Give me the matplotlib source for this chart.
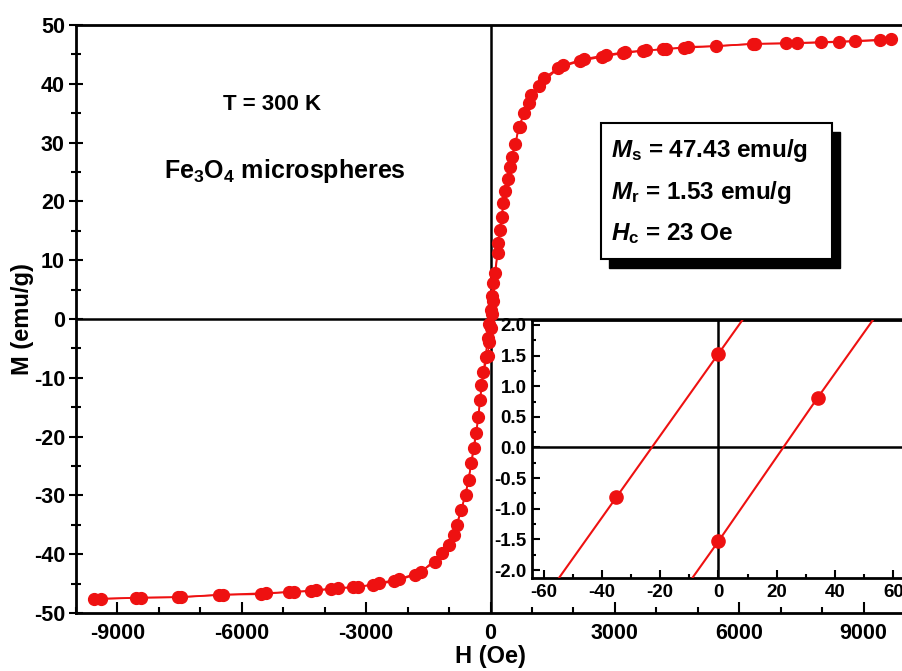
import matplotlib
matplotlib.use('Agg')
import matplotlib.pyplot as plt
import matplotlib.transforms as mtransforms
from matplotlib.patches import Rectangle
from matplotlib.ticker import MultipleLocator, FormatStrFormatter

# descending branch (field swept from +H to -H)
H_down = [9660, 8790, 7970, 7130, 6380, 5430, 4760, 4230, 3740, 3240, 2780, 2250,
          1760, 1280, 970, 800, 700, 510, 410, 310, 220, 170, 70, 35, 0, -35, -70,
          -120, -220, -290, -410, -530, -700, -890, -1160, -1670, -2200, -2680,
          -3190, -3670, -4200, -4730, -5410, -6450, -7460, -8430, -9400]
M_down = [47.6, 47.3, 47.1, 46.9, 46.8, 46.4, 46.3, 45.9, 45.7, 45.4, 44.9, 44.2,
          43.2, 41.0, 38.1, 35.0, 32.7, 27.6, 23.8, 19.7, 15.1, 11.2, 6.21, 3.87, 1.53, -0.81, -3.15,
          -6.5, -11.2, -16.7, -21.9, -27.4, -32.5, -36.7, -39.8, -43.0, -44.2, -44.9,
          -45.6, -45.7, -46.1, -46.4, -46.6, -46.9, -47.3, -47.4, -47.6]

# ascending branch (field swept from -H to +H)
H_up = [-9570, -8550, -7540, -6550, -5530, -4860, -4320, -3840, -3310, -2830, -2320,
        -1810, -1330, -990, -820, -600, -460, -340, -250, -170, -70, -35, 0, 34, 69,
        120, 190, 270, 360, 460, 600, 680, 920, 1160, 1640, 2170, 2700, 3190, 3670,
        4150, 4660, 6330, 7390, 8400, 9400]
M_up = [-47.6, -47.4, -47.3, -46.9, -46.8, -46.4, -46.3, -45.9, -45.6, -45.2, -44.6,
        -43.5, -41.3, -38.4, -35.0, -29.9, -24.5, -19.4, -13.8, -9.0, -6.21, -3.87, -1.53, 0.81, 3.15,
        7.8, 12.9, 17.3, 21.8, 25.9, 29.8, 32.7, 36.7, 39.6, 42.7, 43.9, 44.6, 45.2, 45.6,
        45.9, 46.1, 46.8, 46.9, 47.1, 47.4]

box_lines = [r'$M_\mathrm{s}$ = 47.43 emu/g',
             r'$M_\mathrm{r}$ = 1.53 emu/g',
             r'$H_\mathrm{c}$ = 23 Oe']

plt.rcParams['font.family'] = ['Liberation Sans', 'DejaVu Sans']
plt.rcParams['font.weight'] = 'bold'
plt.rcParams['axes.labelweight'] = 'bold'
plt.rcParams['axes.unicode_minus'] = False
plt.rcParams['mathtext.fontset'] = 'custom'
plt.rcParams['mathtext.it'] = 'Liberation Sans:italic:bold'
plt.rcParams['mathtext.rm'] = 'Liberation Sans:bold'
plt.rcParams['mathtext.bf'] = 'Liberation Sans:bold'

red = '#ee1111'

fig = plt.figure(figsize=(9.03, 6.71), dpi=100)
ax = fig.add_axes([0.0842, 0.0864, 0.918, 0.8763])

for h, m in [(H_down, M_down), (H_up, M_up)]:
    ax.plot(h, m, '-o', color=red, lw=1.2, ms=8.5, mec=red, zorder=3)
ax.axhline(0, color='black', lw=1.8, zorder=2)
ax.axvline(0, color='black', lw=1.8, zorder=2)

ax.set_xlim(-10000, 10000)
ax.set_ylim(-50, 50)
ax.xaxis.set_major_locator(MultipleLocator(3000))
ax.xaxis.set_minor_locator(MultipleLocator(1000))
ax.yaxis.set_major_locator(MultipleLocator(10))
ax.yaxis.set_minor_locator(MultipleLocator(5))
ax.tick_params(axis='x', which='both', direction='in', labelsize=15.5, pad=7, width=1.5)
ax.tick_params(axis='x', which='major', length=8)
ax.tick_params(axis='x', which='minor', length=4)
ax.tick_params(axis='y', which='both', direction='inout', labelsize=15.5, pad=3, width=1.5)
ax.tick_params(axis='y', which='major', length=10)
ax.tick_params(axis='y', which='minor', length=7)
for s in ax.spines.values():
    s.set_linewidth(2)
ax.set_xlabel('H (Oe)', fontsize=17, labelpad=1)
ax.set_ylabel('M (emu/g)', fontsize=17, labelpad=0)

ax.text(0.236, 0.864, 'T = 300 K', transform=ax.transAxes, ha='center', va='center', fontsize=16)
ax.text(0.252, 0.752, r'Fe$_3$O$_4$ microspheres', transform=ax.transAxes,
        ha='center', va='center', fontsize=18)

# text box with drop shadow
shadow_tr = mtransforms.offset_copy(ax.transAxes, fig=fig, x=8, y=-9, units='dots')
ax.add_patch(Rectangle((0.633, 0.602), 0.279, 0.231, transform=shadow_tr,
                       facecolor='black', edgecolor='black', zorder=5))
ax.add_patch(Rectangle((0.633, 0.602), 0.279, 0.231, transform=ax.transAxes,
                       facecolor='white', edgecolor='black', lw=1.5, zorder=6))
for i, line in enumerate(box_lines):
    ax.text(0.645, 0.787 - i * 0.071, line, transform=ax.transAxes, ha='left', va='center',
            fontsize=17.5, zorder=7)

# inset zoom around the origin
axin = fig.add_axes([0.5891, 0.1386, 0.4131, 0.3845])
for h, m in [(H_down, M_down), (H_up, M_up)]:
    axin.plot(h, m, '-o', color=red, lw=1.5, ms=9.5, mec=red, zorder=3)
axin.axhline(0, color='black', lw=1.8, zorder=2)
axin.axvline(0, color='black', lw=1.8, zorder=2)
axin.set_xlim(-64, 64)
axin.set_ylim(-2.13, 2.08)
axin.xaxis.set_major_locator(MultipleLocator(20))
axin.xaxis.set_minor_locator(MultipleLocator(10))
axin.yaxis.set_major_locator(MultipleLocator(0.5))
axin.yaxis.set_minor_locator(MultipleLocator(0.25))
axin.yaxis.set_major_formatter(FormatStrFormatter('%.1f'))
axin.tick_params(which='both', direction='in', labelsize=13.5, width=1.5, pad=4)
axin.tick_params(which='major', length=6)
axin.tick_params(which='minor', length=3)
for s in axin.spines.values():
    s.set_linewidth(2)

fig.savefig('out.png', dpi=100)
plt.close()
